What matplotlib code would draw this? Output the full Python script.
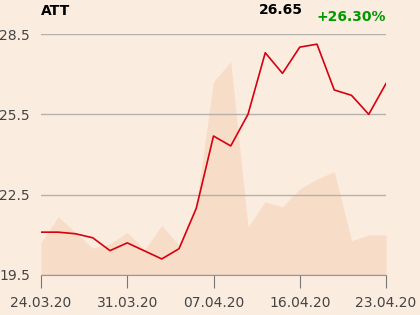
import matplotlib
matplotlib.use("Agg")
import matplotlib.pyplot as plt
import numpy as np

dates = ["24.03.20", "25.03.20", "26.03.20", "27.03.20", "30.03.20", "31.03.20",
         "01.04.20", "02.04.20", "03.04.20", "06.04.20", "07.04.20", "08.04.20",
         "09.04.20", "14.04.20", "15.04.20", "16.04.20", "17.04.20", "20.04.20",
         "21.04.20", "22.04.20", "23.04.20"]
prices = [21.10, 21.10, 21.04, 20.89, 20.41, 20.70, 20.40, 20.10, 20.48, 21.99,
          24.69, 24.32, 25.50, 27.80, 27.03, 28.01, 28.12, 26.41, 26.21, 25.50, 26.65]
volumes = [13.4, 24.2, 17.6, 11.1, 12.9, 17.7, 10.4, 20.5, 12.4, 29.0,
           80.2, 88.5, 19.9, 30.4, 28.3, 35.7, 39.8, 42.9, 14.2, 16.6, 16.6]
tick_labels = ["24.03.20", "31.03.20", "07.04.20", "16.04.20", "23.04.20"]
yticks = [19.5, 22.5, 25.5, 28.5]
name = "ATT"
last = "26.65"
change = "+26.30%"

bg = "#fbece0"
fig = plt.figure(figsize=(4.2, 3.15), dpi=100, facecolor=bg)
ax = fig.add_axes([41/420, 1-275/315, 345/420, 241/315])
ax.set_facecolor(bg)
x = np.arange(len(prices))

axv = ax.twinx()
axv.fill_between(x, 0, volumes, color="#f7dcc7", lw=0)
axv.set_ylim(0, 100)
axv.axis("off")
ax.set_zorder(axv.get_zorder() + 1)
ax.patch.set_visible(False)
fig.patch.set_facecolor(bg)
axv.patch.set_visible(False)

ax.plot(x, prices, color="#d7000f", lw=1.2, zorder=3)
ax.set_xlim(0, len(prices) - 1)
ax.set_ylim(19.5, 28.5)
ax.set_yticks(yticks)
ax.set_yticklabels([f"{v:.1f}" for v in yticks])
ax.grid(axis="y", color="#b4b0ac", lw=1)
tick_pos = [dates.index(t) for t in tick_labels]
ax.set_xticks(tick_pos)
ax.set_xticklabels(tick_labels)
for s in ["top", "right", "left"]:
    ax.spines[s].set_visible(False)
ax.spines["bottom"].set_color("#999590")
ax.tick_params(axis="y", length=0, pad=8, labelsize=10, labelcolor="#444444")
ax.tick_params(axis="x", length=9, color="#777777", pad=6, labelsize=10, labelcolor="#444444")

fig.text(41/420, 1-11/315, name, fontsize=10, fontweight="bold", ha="left", va="center")
fig.text(281/420, 1-10/315, last, fontsize=10, fontweight="bold", ha="center", va="center")
fig.text(386/420, 1-17/315, change, fontsize=10, fontweight="bold", ha="right", va="center", color="#009900")

fig.savefig("out.png", dpi=100, facecolor=bg)
